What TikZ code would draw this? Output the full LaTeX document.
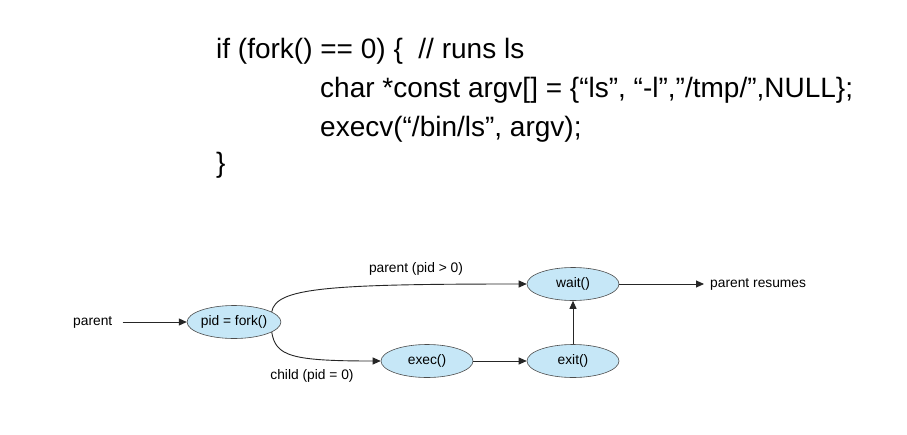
\documentclass[tikz,border=0pt]{standalone}
\usepackage{fontspec}
\setmainfont{Liberation Sans}
\usetikzlibrary{arrows.meta,shapes.geometric}
\begin{document}
\begin{tikzpicture}[x=1pt,y=-1pt,
  code/.style={anchor=base west,inner sep=0pt,font=\fontsize{28}{32}\selectfont},
  proc/.style={ellipse,draw=black!70,line width=0.6pt,fill=procblue,
    minimum width=92pt,minimum height=33pt,inner sep=0pt,font=\fontsize{13.8}{16}\selectfont},
  lbl/.style={inner sep=0pt,font=\fontsize{13.8}{16}\selectfont},
  flow/.style={draw=black!85,line width=0.9pt,-{Triangle[length=8pt,width=7pt]}}]
\definecolor{procblue}{RGB}{198,231,247}
\useasboundingbox[fill=white] (0,0) rectangle (907,434);

% source fragment
\node[code] (l1) at (216,58) {if (fork() == 0) \{\ \ // runs ls};
\node[code] (l2) at (320,97) {char *const argv[] = \{“ls”, “-l”,”/tmp/”,NULL\};};
\node[code] (l3) at (320,136) {execv(“/bin/ls”, argv);};
\node[code] (l4) at (216,172) {\}};

% process flow
\node[proc] (fork) at (234,322) {pid = fork()};
\node[proc] (wait) at (573,284) {wait()};
\node[proc] (exec) at (427,361) {exec()};
\node[proc] (exit) at (573,361) {exit()};

\node[lbl,anchor=west] (parent) at (73,322) {parent};
\node[lbl,anchor=west] (resumes) at (710,284) {parent resumes};
\node[lbl] (plab) at (416,269) {parent (pid > 0)};
\node[lbl] (clab) at (312,376) {child (pid = 0)};

\path (parent.east) ++(10,0) coordinate (pstart);
\draw[flow] (pstart) -- (fork.west);
\draw[flow] (fork.15) .. controls +(4,-24) and +(-200,0) .. (wait.west);
\draw[flow] (fork.-15) .. controls +(4,24) and +(-90,0) .. (exec.west);
\draw[flow] (exec.east) -- (exit.west);
\draw[flow] (exit.north) -- (wait.south);
\draw[flow] (wait.east) -- ([xshift=-6pt]resumes.west);
\end{tikzpicture}
\end{document}
